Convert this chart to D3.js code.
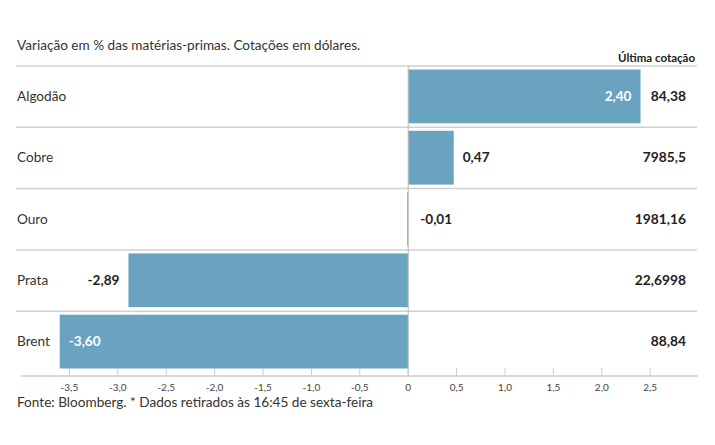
<!DOCTYPE html>
<html>
<head>
<meta charset="utf-8">
<title>Matérias-primas</title>
<script src="https://d3js.org/d3.v7.min.js"></script>
<style>
  body { margin: 0; background: #fff; }
  svg text { font-family: "Lato", "Noto Sans", sans-serif; fill: #222; }
</style>
</head>
<body>
<script>

const categories = ["Algodão", "Cobre", "Ouro", "Prata", "Brent"];
const variation = [2.40, 0.47, -0.01, -2.89, -3.60];
const lastQuote = ["84,38", "7985,5", "1981,16", "22,6998", "88,84"];
const tickValues = [-3.5, -3, -2.5, -2, -1.5, -1, -0.5, 0, 0.5, 1, 1.5, 2, 2.5];

const width = 715, height = 445;

const svg = d3.select("body").append("svg")
  .attr("width", width)
  .attr("height", height);

let x = d3.scaleLinear().domain([-4, 3]).range([21, 698.6]);
let y = d3.scaleBand().domain(categories).range([66, 372.5]);

const fmt = v => v.toFixed(2).replace(".", ",");

// rotulo dentro da barra? (positivas largas; negativas que chegam perto dos nomes)
const inside = d => d >= 0 ? Math.abs(x(d) - x(0)) > 60 : x(d) < 90;
const outsideNeg = d => d < 0 && !inside(d) && Math.abs(x(d) - x(0)) > 60;

// titulo
svg.append("text")
  .attr("x", 17).attr("y", 50)
  .style("font-size", "13.6px")
  .style("fill", "#333")
  .text("Variação em % das matérias-primas. Cotações em dólares.");

svg.append("text")
  .attr("x", 695).attr("y", 62)
  .attr("text-anchor", "end")
  .style("font-size", "11.5px")
  .style("font-weight", "bold")
  .text("Última cotação");

// linhas separadoras
svg.selectAll("line.sep").data(categories)
  .join("line")
  .attr("class", "sep")
  .attr("x1", 16).attr("x2", 697)
  .attr("y1", d => y(d)).attr("y2", d => y(d))
  .attr("stroke", "#d0d0d0")
  .attr("stroke-width", 1.5);

// barras
svg.selectAll("rect.bar").data(variation)
  .join("rect")
  .attr("class", "bar")
  .attr("x", d => x(Math.min(0, d)))
  .attr("width", d => Math.max(1, Math.abs(x(d) - x(0))))
  .attr("y", (d, i) => y(categories[i]) + 3.5)
  .attr("height", y.bandwidth() - 7.5)
  .attr("fill", "#6aa3bf");

// linha do zero
svg.append("line")
  .attr("x1", x(0)).attr("x2", x(0))
  .attr("y1", 66).attr("y2", 376)
  .attr("stroke", "#bbb")
  .attr("stroke-width", 1);

// eixo
let axis = svg.append("g")
  .attr("transform", "translate(0,376)");

axis.append("line")
  .attr("x1", 21).attr("x2", 698)
  .attr("stroke", "#ccc")
  .attr("stroke-width", 1.5);

axis.selectAll("line.tick").data(tickValues)
  .join("line")
  .attr("class", "tick")
  .attr("x1", d => x(d)).attr("x2", d => x(d))
  .attr("y1", -8).attr("y2", 0)
  .attr("stroke", "#ccc");

axis.selectAll("text.tick").data(tickValues)
  .join("text")
  .attr("class", "tick")
  .attr("x", d => x(d))
  .attr("y", 15)
  .attr("text-anchor", "middle")
  .style("font-size", "10px")
  .style("fill", "#444")
  .text(d => d == 0 ? "0" : d.toFixed(1).replace(".", ","));

// nomes
svg.selectAll("text.cat").data(categories)
  .join("text")
  .attr("class", "cat")
  .attr("x", 17)
  .attr("y", d => y(d) + y.bandwidth() / 2 + 4.5)
  .style("font-size", "13.6px")
  .style("fill", "#333")
  .text(d => d);

// valores
svg.selectAll("text.val").data(variation)
  .join("text")
  .attr("class", "val")
  .attr("y", (d, i) => y(categories[i]) + y.bandwidth() / 2 + 4.5)
  .attr("x", d => {
    if (d >= 0) return inside(d) ? x(d) - 9 : x(d) + 9;
    if (inside(d)) return x(d) + 9;
    return outsideNeg(d) ? x(d) - 9 : x(0) + 12;
  })
  .attr("text-anchor", d => {
    if (d >= 0) return inside(d) ? "end" : "start";
    if (inside(d)) return "start";
    return outsideNeg(d) ? "end" : "start";
  })
  .style("font-size", "13.6px")
  .style("font-weight", "bold")
  .style("fill", d => inside(d) ? "#fff" : "#222")
  .text(d => fmt(d));

svg.selectAll("text.quote").data(lastQuote)
  .join("text")
  .attr("class", "quote")
  .attr("x", 686)
  .attr("y", (d, i) => y(categories[i]) + y.bandwidth() / 2 + 4.5)
  .attr("text-anchor", "end")
  .style("font-size", "13.8px")
  .style("font-weight", "bold")
  .text(d => d);

// fonte
svg.append("text")
  .attr("x", 17).attr("y", 407)
  .style("font-size", "13.6px")
  .style("fill", "#333")
  .text("Fonte: Bloomberg.  * Dados retirados às 16:45 de sexta-feira");

</script>
</body>
</html>
